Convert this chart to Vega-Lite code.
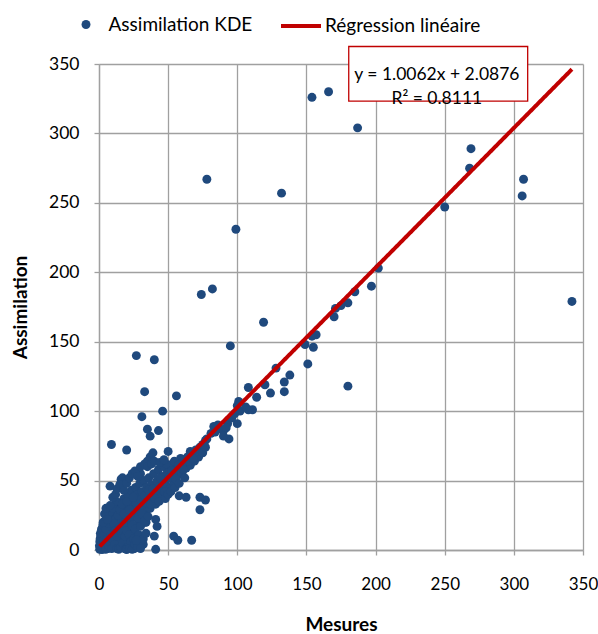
{
  "$schema": "https://vega.github.io/schema/vega-lite/v6.json",
  "width": 484,
  "height": 486,
  "autosize": {"type": "none"},
  "padding": {"left": 99, "top": 64, "right": 15, "bottom": 84},
  "background": "white",
  "config": {
    "font": "Lato",
    "view": {"stroke": null},
    "axis": {
      "gridColor": "#A0A0A0", "gridWidth": 1.3, "gridOpacity": 1,
      "domainColor": "#A0A0A0", "domainWidth": 1.3,
      "tickColor": "#A0A0A0", "tickWidth": 1.3, "tickSize": 5,
      "labelFont": "Lato", "labelFontSize": 17.5, "labelColor": "#000000",
      "labelFlush": false, "labelOverlap": false,
      "titleFont": "Lato", "titleFontSize": 19, "titleFontWeight": "bold", "titleColor": "#000000"
    },
    "legend": {
      "padding": 0, "labelFont": "Lato", "labelFontSize": 19, "labelColor": "#000000"
    }
  },
  "datasets": {
    "kde": [
      {"mesure": 154, "assimilation": 326}, {"mesure": 166, "assimilation": 330}, {"mesure": 187, "assimilation": 304},
      {"mesure": 269, "assimilation": 289}, {"mesure": 268, "assimilation": 275}, {"mesure": 307, "assimilation": 267},
      {"mesure": 306, "assimilation": 255}, {"mesure": 250, "assimilation": 247}, {"mesure": 78, "assimilation": 267},
      {"mesure": 132, "assimilation": 257}, {"mesure": 99, "assimilation": 231}, {"mesure": 202, "assimilation": 203},
      {"mesure": 197, "assimilation": 190}, {"mesure": 74, "assimilation": 184}, {"mesure": 82, "assimilation": 188},
      {"mesure": 342, "assimilation": 179}, {"mesure": 185, "assimilation": 186}, {"mesure": 180, "assimilation": 178},
      {"mesure": 175, "assimilation": 176}, {"mesure": 171, "assimilation": 174}, {"mesure": 170, "assimilation": 168},
      {"mesure": 157, "assimilation": 155}, {"mesure": 154, "assimilation": 154}, {"mesure": 149, "assimilation": 148},
      {"mesure": 155, "assimilation": 146}, {"mesure": 151, "assimilation": 134}, {"mesure": 180, "assimilation": 118},
      {"mesure": 119, "assimilation": 164}, {"mesure": 95, "assimilation": 147}, {"mesure": 40, "assimilation": 137},
      {"mesure": 27, "assimilation": 140}, {"mesure": 33, "assimilation": 114}, {"mesure": 56, "assimilation": 111},
      {"mesure": 128, "assimilation": 131}, {"mesure": 138, "assimilation": 126}, {"mesure": 134, "assimilation": 121},
      {"mesure": 134, "assimilation": 114}, {"mesure": 120, "assimilation": 119}, {"mesure": 124, "assimilation": 113},
      {"mesure": 108, "assimilation": 117}, {"mesure": 114, "assimilation": 110}, {"mesure": 101, "assimilation": 107},
      {"mesure": 108, "assimilation": 101}, {"mesure": 111, "assimilation": 101}, {"mesure": 102, "assimilation": 100},
      {"mesure": 100, "assimilation": 104}, {"mesure": 106, "assimilation": 103}, {"mesure": 100, "assimilation": 91},
      {"mesure": 93, "assimilation": 91}, {"mesure": 86, "assimilation": 90}, {"mesure": 90, "assimilation": 86},
      {"mesure": 94, "assimilation": 80}, {"mesure": 81, "assimilation": 84}, {"mesure": 77, "assimilation": 79},
      {"mesure": 73, "assimilation": 74}, {"mesure": 83, "assimilation": 89}, {"mesure": 88, "assimilation": 87},
      {"mesure": 92, "assimilation": 88}, {"mesure": 90, "assimilation": 82}, {"mesure": 78, "assimilation": 80},
      {"mesure": 66, "assimilation": 71}, {"mesure": 61, "assimilation": 65}, {"mesure": 57, "assimilation": 62},
      {"mesure": 70, "assimilation": 70}, {"mesure": 75, "assimilation": 76}, {"mesure": 84, "assimilation": 85},
      {"mesure": 96, "assimilation": 95}, {"mesure": 98, "assimilation": 98},
      {"mesure": 31, "assimilation": 96}, {"mesure": 46, "assimilation": 100}, {"mesure": 35, "assimilation": 87},
      {"mesure": 43, "assimilation": 86}, {"mesure": 37, "assimilation": 82}, {"mesure": 9, "assimilation": 76},
      {"mesure": 20, "assimilation": 72}, {"mesure": 50, "assimilation": 71}, {"mesure": 37, "assimilation": 67},
      {"mesure": 39, "assimilation": 70}, {"mesure": 35, "assimilation": 64}, {"mesure": 30, "assimilation": 55},
      {"mesure": 17, "assimilation": 52}, {"mesure": 16, "assimilation": 51}, {"mesure": 8, "assimilation": 46},
      {"mesure": 58, "assimilation": 39}, {"mesure": 63, "assimilation": 38}, {"mesure": 73, "assimilation": 38},
      {"mesure": 77, "assimilation": 36}, {"mesure": 73, "assimilation": 29}, {"mesure": 54, "assimilation": 10},
      {"mesure": 57, "assimilation": 7}, {"mesure": 67, "assimilation": 7}, {"mesure": 41, "assimilation": 0.5},
      {"mesure": 40, "assimilation": 10}, {"mesure": 42, "assimilation": 17}, {"mesure": 41, "assimilation": 22},
      {"mesure": 34, "assimilation": 20}, {"mesure": 32, "assimilation": 4}, {"mesure": 25, "assimilation": 1},
      {"mesure": 33, "assimilation": 20}, {"mesure": 22, "assimilation": 7},
      {"mesure": 0.5, "assimilation": 0.5}, {"mesure": 1, "assimilation": 2}, {"mesure": 1.5, "assimilation": 4},
      {"mesure": 2, "assimilation": 1}, {"mesure": 2.5, "assimilation": 6}, {"mesure": 3, "assimilation": 3},
      {"mesure": 0.8, "assimilation": 8}, {"mesure": 1.2, "assimilation": 10}, {"mesure": 2, "assimilation": 12},
      {"mesure": 3, "assimilation": 9}, {"mesure": 3.5, "assimilation": 14}, {"mesure": 4, "assimilation": 2},
      {"mesure": 4.5, "assimilation": 7}, {"mesure": 5, "assimilation": 11}, {"mesure": 5.5, "assimilation": 4},
      {"mesure": 6, "assimilation": 16}, {"mesure": 6.5, "assimilation": 1}, {"mesure": 7, "assimilation": 9},
      {"mesure": 7.5, "assimilation": 13}, {"mesure": 8, "assimilation": 20}, {"mesure": 8.5, "assimilation": 5},
      {"mesure": 9, "assimilation": 24}, {"mesure": 9.5, "assimilation": 17}, {"mesure": 10, "assimilation": 2},
      {"mesure": 10.5, "assimilation": 12}, {"mesure": 11, "assimilation": 28}, {"mesure": 11.5, "assimilation": 8},
      {"mesure": 12, "assimilation": 22}, {"mesure": 12.5, "assimilation": 15}, {"mesure": 13, "assimilation": 31},
      {"mesure": 13.5, "assimilation": 3}, {"mesure": 14, "assimilation": 19}, {"mesure": 14.5, "assimilation": 26},
      {"mesure": 15, "assimilation": 10}, {"mesure": 15.5, "assimilation": 34}, {"mesure": 16, "assimilation": 6},
      {"mesure": 16.5, "assimilation": 23}, {"mesure": 17, "assimilation": 29}, {"mesure": 17.5, "assimilation": 14},
      {"mesure": 18, "assimilation": 37}, {"mesure": 18.5, "assimilation": 1}, {"mesure": 19, "assimilation": 20},
      {"mesure": 19.5, "assimilation": 31}, {"mesure": 20, "assimilation": 8}, {"mesure": 20.5, "assimilation": 26},
      {"mesure": 21, "assimilation": 40}, {"mesure": 21.5, "assimilation": 16}, {"mesure": 22, "assimilation": 33},
      {"mesure": 22.5, "assimilation": 3}, {"mesure": 23, "assimilation": 22}, {"mesure": 23.5, "assimilation": 43},
      {"mesure": 24, "assimilation": 29}, {"mesure": 24.5, "assimilation": 12}, {"mesure": 25, "assimilation": 37},
      {"mesure": 25.5, "assimilation": 1}, {"mesure": 26, "assimilation": 25}, {"mesure": 26.5, "assimilation": 45},
      {"mesure": 27, "assimilation": 33}, {"mesure": 27.5, "assimilation": 18}, {"mesure": 28, "assimilation": 40},
      {"mesure": 29, "assimilation": 28}, {"mesure": 29.5, "assimilation": 48}, {"mesure": 30, "assimilation": 36},
      {"mesure": 30.5, "assimilation": 22}, {"mesure": 31, "assimilation": 42}, {"mesure": 32, "assimilation": 31},
      {"mesure": 32.5, "assimilation": 50}, {"mesure": 33, "assimilation": 39}, {"mesure": 34, "assimilation": 27},
      {"mesure": 34.5, "assimilation": 45}, {"mesure": 35, "assimilation": 35}, {"mesure": 36, "assimilation": 52},
      {"mesure": 36.5, "assimilation": 41}, {"mesure": 37, "assimilation": 30}, {"mesure": 38, "assimilation": 47},
      {"mesure": 39, "assimilation": 38}, {"mesure": 39.5, "assimilation": 55}, {"mesure": 40, "assimilation": 44},
      {"mesure": 41, "assimilation": 33}, {"mesure": 42, "assimilation": 50}, {"mesure": 42.5, "assimilation": 40},
      {"mesure": 43, "assimilation": 58}, {"mesure": 44, "assimilation": 46}, {"mesure": 45, "assimilation": 38},
      {"mesure": 45.5, "assimilation": 53}, {"mesure": 46, "assimilation": 43}, {"mesure": 47, "assimilation": 60},
      {"mesure": 48, "assimilation": 49}, {"mesure": 49, "assimilation": 55}, {"mesure": 50, "assimilation": 45},
      {"mesure": 51, "assimilation": 58}, {"mesure": 52, "assimilation": 52}, {"mesure": 53, "assimilation": 62},
      {"mesure": 54, "assimilation": 48}, {"mesure": 55, "assimilation": 57}, {"mesure": 56, "assimilation": 63},
      {"mesure": 57, "assimilation": 54}, {"mesure": 58, "assimilation": 60}, {"mesure": 59, "assimilation": 66},
      {"mesure": 60, "assimilation": 56}, {"mesure": 62, "assimilation": 63}, {"mesure": 63, "assimilation": 59},
      {"mesure": 64, "assimilation": 67}, {"mesure": 66, "assimilation": 61}, {"mesure": 67, "assimilation": 69},
      {"mesure": 69, "assimilation": 64}, {"mesure": 70, "assimilation": 72}, {"mesure": 72, "assimilation": 67},
      {"mesure": 75, "assimilation": 70}, {"mesure": 77, "assimilation": 74},
      {"mesure": 0.3, "assimilation": 3}, {"mesure": 0.6, "assimilation": 6}, {"mesure": 1, "assimilation": 12},
      {"mesure": 1.8, "assimilation": 15}, {"mesure": 2.2, "assimilation": 0.3}, {"mesure": 2.8, "assimilation": 18},
      {"mesure": 3.2, "assimilation": 7}, {"mesure": 3.8, "assimilation": 11}, {"mesure": 4.2, "assimilation": 21},
      {"mesure": 4.8, "assimilation": 0.5}, {"mesure": 5.2, "assimilation": 15}, {"mesure": 5.8, "assimilation": 8},
      {"mesure": 6.2, "assimilation": 25}, {"mesure": 6.8, "assimilation": 3}, {"mesure": 7.2, "assimilation": 19},
      {"mesure": 7.8, "assimilation": 6}, {"mesure": 8.2, "assimilation": 28}, {"mesure": 8.8, "assimilation": 11},
      {"mesure": 9.2, "assimilation": 1}, {"mesure": 9.8, "assimilation": 8}, {"mesure": 10.2, "assimilation": 30},
      {"mesure": 10.8, "assimilation": 19}, {"mesure": 11.2, "assimilation": 4}, {"mesure": 11.8, "assimilation": 14},
      {"mesure": 12.2, "assimilation": 35}, {"mesure": 12.8, "assimilation": 1}, {"mesure": 13.2, "assimilation": 10},
      {"mesure": 13.8, "assimilation": 25}, {"mesure": 14.2, "assimilation": 0.5}, {"mesure": 14.8, "assimilation": 16},
      {"mesure": 15.2, "assimilation": 29}, {"mesure": 15.8, "assimilation": 2}, {"mesure": 16.2, "assimilation": 12},
      {"mesure": 16.8, "assimilation": 33}, {"mesure": 17.2, "assimilation": 5}, {"mesure": 17.8, "assimilation": 18},
      {"mesure": 18.2, "assimilation": 26}, {"mesure": 18.8, "assimilation": 10}, {"mesure": 19.2, "assimilation": 0.8},
      {"mesure": 19.8, "assimilation": 14}, {"mesure": 20.2, "assimilation": 35}, {"mesure": 21, "assimilation": 2},
      {"mesure": 21.8, "assimilation": 11}, {"mesure": 22.2, "assimilation": 29}, {"mesure": 23, "assimilation": 6},
      {"mesure": 24, "assimilation": 18}, {"mesure": 24.8, "assimilation": 38}, {"mesure": 25.2, "assimilation": 8},
      {"mesure": 26.2, "assimilation": 15}, {"mesure": 27, "assimilation": 3}, {"mesure": 28.2, "assimilation": 23},
      {"mesure": 28.8, "assimilation": 11}, {"mesure": 30, "assimilation": 17}, {"mesure": 31.2, "assimilation": 26},
      {"mesure": 33, "assimilation": 21}, {"mesure": 34, "assimilation": 34},
      {"mesure": 35.5, "assimilation": 24}, {"mesure": 36, "assimilation": 43}, {"mesure": 37.5, "assimilation": 33},
      {"mesure": 39, "assimilation": 44}, {"mesure": 40.5, "assimilation": 37},
      {"mesure": 43.5, "assimilation": 35}, {"mesure": 44.5, "assimilation": 52},
      {"mesure": 46.5, "assimilation": 48}, {"mesure": 47.5, "assimilation": 42}, {"mesure": 48.5, "assimilation": 62},
      {"mesure": 50.5, "assimilation": 52}, {"mesure": 52.5, "assimilation": 57}, {"mesure": 54.5, "assimilation": 64},
      {"mesure": 55.5, "assimilation": 51}, {"mesure": 57.5, "assimilation": 61}, {"mesure": 60.5, "assimilation": 62},
      {"mesure": 61, "assimilation": 58}, {"mesure": 65, "assimilation": 64}, {"mesure": 68, "assimilation": 66},
      {"mesure": 3, "assimilation": 20}, {"mesure": 4, "assimilation": 26}, {"mesure": 5, "assimilation": 30},
      {"mesure": 6, "assimilation": 22}, {"mesure": 8, "assimilation": 32}, {"mesure": 10, "assimilation": 38},
      {"mesure": 12, "assimilation": 40}, {"mesure": 13, "assimilation": 44}, {"mesure": 15, "assimilation": 47},
      {"mesure": 18, "assimilation": 43}, {"mesure": 20, "assimilation": 48}, {"mesure": 22, "assimilation": 52},
      {"mesure": 24, "assimilation": 55}, {"mesure": 26, "assimilation": 57}, {"mesure": 28, "assimilation": 53},
      {"mesure": 30, "assimilation": 60}, {"mesure": 33, "assimilation": 62}, {"mesure": 35, "assimilation": 60},
      {"mesure": 38, "assimilation": 62}, {"mesure": 40, "assimilation": 64}, {"mesure": 44, "assimilation": 63},
      {"mesure": 47, "assimilation": 65},
      {"mesure": 20, "assimilation": 0.3}, {"mesure": 22, "assimilation": 1}, {"mesure": 24, "assimilation": 0.5},
      {"mesure": 26, "assimilation": 4}, {"mesure": 28, "assimilation": 2}, {"mesure": 30, "assimilation": 6},
      {"mesure": 32, "assimilation": 8}, {"mesure": 34, "assimilation": 12},
      {"mesure": 48, "assimilation": 37},
      {"mesure": 50, "assimilation": 40}, {"mesure": 52, "assimilation": 42}, {"mesure": 55, "assimilation": 45},
      {"mesure": 58, "assimilation": 48}, {"mesure": 62, "assimilation": 52}, {"mesure": 30, "assimilation": 1},
      {"mesure": 27, "assimilation": 7}
    ],
    "reg": [
      {"mesure": 0.5, "assimilation": 2.59},
      {"mesure": 342, "assimilation": 346.21}
    ]
  },
  "layer": [
    {
      "data": {"name": "kde"},
      "mark": {"type": "point", "filled": true, "size": 80, "opacity": 1},
      "encoding": {
        "x": {
          "field": "mesure", "type": "quantitative",
          "scale": {"domain": [0, 350], "nice": false, "zero": true},
          "axis": {"values": [0, 50, 100, 150, 200, 250, 300, 350], "title": "Mesures", "labelFontSize": 17, "labelPadding": 21, "titleY": 74, "titleBaseline": "middle"}
        },
        "y": {
          "field": "assimilation", "type": "quantitative",
          "scale": {"domain": [0, 350], "nice": false, "zero": true},
          "axis": {"values": [0, 50, 100, 150, 200, 250, 300, 350], "title": "Assimilation", "labelPadding": 15, "titleX": -79, "titleBaseline": "middle"}
        },
        "color": {
          "datum": "Assimilation KDE",
          "scale": {"domain": ["Assimilation KDE"], "range": ["#1F497D"]},
          "legend": {
            "title": null, "orient": "none", "legendX": -22.5, "legendY": -49, "direction": "horizontal",
            "symbolType": "circle", "symbolSize": 80, "symbolOpacity": 1, "labelOffset": 13
          }
        }
      }
    },
    {
      "data": {"name": "reg"},
      "mark": {"type": "line", "strokeWidth": 4, "color": "#C00000"},
      "encoding": {
        "x": {"field": "mesure", "type": "quantitative"},
        "y": {"field": "assimilation", "type": "quantitative"},
        "strokeDash": {
          "datum": "Régression linéaire",
          "scale": {"domain": ["Régression linéaire"], "range": [[1, 0]]},
          "legend": {
            "title": null, "orient": "none", "legendX": 180, "legendY": -60, "direction": "horizontal",
            "symbolType": "stroke", "symbolSize": 1600, "symbolStrokeColor": "#C00000", "symbolStrokeWidth": 4,
            "symbolOpacity": 1, "labelOffset": 2
          }
        }
      }
    },
    {
      "data": {"values": [{}]},
      "mark": {"type": "rect", "fill": "white", "stroke": "#C00000", "strokeWidth": 1.3},
      "encoding": {
        "x": {"datum": 180.6}, "x2": {"datum": 310},
        "y": {"datum": 362.6}, "y2": {"datum": 323.3}
      }
    },
    {
      "data": {"values": [{}]},
      "mark": {"type": "text", "font": "Lato", "fontSize": 17.5, "lineHeight": 23.6, "align": "center", "baseline": "middle", "color": "#000000"},
      "encoding": {
        "x": {"datum": 244.3},
        "y": {"datum": 342},
        "text": {"value": ["y = 1.0062x + 2.0876", "R² = 0.8111"]}
      }
    }
  ]
}
